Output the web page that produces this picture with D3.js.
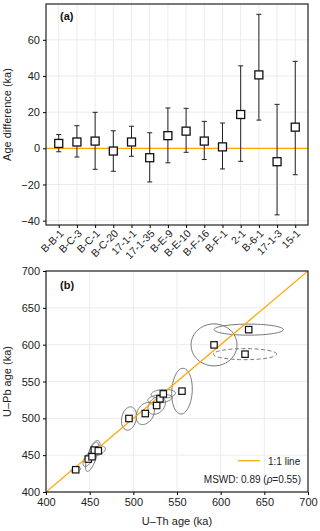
<!DOCTYPE html>
<html>
<head>
<meta charset="utf-8">
<script src="https://cdn.jsdelivr.net/npm/d3@7"></script>
<style>
  body { margin: 0; background: #fff; }
  svg { display: block; font-family: "Liberation Sans", Arial, sans-serif; }
  .grid line { stroke: #ececec; stroke-width: 1; }
  .tick text { fill: #222; }
</style>
</head>
<body>
<svg id="chart" width="320" height="531"></svg>
<script>
// panel (a): U-Th minus U-Pb age difference per sample
const samples = ['B-B-1', 'B-C-3', 'B-C-1', 'B-C-20', '17-1-1', '17-1-35', 'B-E-9', 'B-E-10',
                 'B-F-16', 'B-F-1', '2-1', 'B-6-1', '17-1-3', '15-1'];
const ageDiff = [2.7, 3.5, 4.0, -1.5, 3.5, -5.2, 7.0, 9.5, 4.0, 0.8, 18.7, 40.6, -7.4, 11.7];
const diffHigh = [7.6, 12.5, 19.9, 9.7, 12.2, 8.6, 22.3, 22.1, 14.9, 14.0, 45.6, 74.1, 24.3, 48.1];
const diffLow = [-1.9, -4.8, -11.6, -12.7, -4.4, -18.6, -8.0, -2.2, -6.2, -11.4, -7.2, 15.6, -36.8, -14.6];
const diffTicks = [-40, -20, 0, 20, 40, 60];

// panel (b): U-Pb vs U-Th ages with error ellipses
const uthAge = [434, 448.4, 452.7, 455.3, 459.9, 495, 513.7, 526.7, 530.5, 534.3, 555.7, 592.4, 632.1, 627.9];
const upbAge = [430.2, 444.7, 447.9, 456.9, 456, 499.8, 506.5, 517.4, 526.5, 533.2, 536.9, 599.7, 620.4, 587.1];
const uthErr = [5.7, 6, 7.4, 6.5, 8, 8.6, 10.5, 10, 14, 14, 11.8, 26.3, 39.7, 36.3];
const upbErr = [3.4, 10, 20, 13, 6.5, 15.8, 15, 12, 6, 6, 31, 28.5, 7.5, 7.5];
const rho = [0.4, 0.6, 0.7, 0.55, 0.4, 0.2, 0.3, 0.3, 0.3, 0.15, 0.1, 0, 0, 0];
const rejected = [false, false, false, false, false, false, false, false, false, false, false, false, false, true];
const ageTicks = [400, 450, 500, 550, 600, 650, 700];

const svg = d3.select('#chart');
const W = { left: 46, right: 308 };
const A = { top: 4, bottom: 225 };
const B = { top: 271, bottom: 492 };
const orange = '#ffa500';

// ---------- panel (a) ----------
const xa = d3.scalePoint().domain(samples).range([W.left, W.right]).padding(0.7);
const ya = d3.scaleLinear().domain([-42.4, 79.8]).range([A.bottom, A.top]);

const ga = svg.append('g');
ga.append('g').attr('class', 'grid')
  .selectAll('line.h').data(diffTicks).join('line')
  .attr('x1', W.left).attr('x2', W.right)
  .attr('y1', d => ya(d)).attr('y2', d => ya(d));
ga.append('g').attr('class', 'grid')
  .selectAll('line.v').data(samples).join('line')
  .attr('x1', d => xa(d)).attr('x2', d => xa(d))
  .attr('y1', A.top).attr('y2', A.bottom);

ga.append('line')
  .attr('x1', W.left).attr('x2', W.right)
  .attr('y1', ya(0)).attr('y2', ya(0))
  .attr('stroke', orange).attr('stroke-width', 1.2);

const bars = ga.append('g').selectAll('g').data(samples).join('g');
bars.append('line')
  .attr('x1', d => xa(d)).attr('x2', d => xa(d))
  .attr('y1', (d, i) => ya(diffHigh[i])).attr('y2', (d, i) => ya(diffLow[i]))
  .attr('stroke', '#222').attr('stroke-width', 1);
bars.selectAll('line.cap').data((d, i) => [[d, diffHigh[i]], [d, diffLow[i]]]).join('line')
  .attr('class', 'cap')
  .attr('x1', d => xa(d[0]) - 2.5).attr('x2', d => xa(d[0]) + 2.5)
  .attr('y1', d => ya(d[1])).attr('y2', d => ya(d[1]))
  .attr('stroke', '#222').attr('stroke-width', 1);
bars.append('rect')
  .attr('x', d => xa(d) - 4).attr('y', (d, i) => ya(ageDiff[i]) - 4)
  .attr('width', 8).attr('height', 8)
  .attr('fill', '#fff').attr('stroke', '#111').attr('stroke-width', 1.3);

ga.append('rect')
  .attr('x', W.left).attr('y', A.top)
  .attr('width', W.right - W.left).attr('height', A.bottom - A.top)
  .attr('fill', 'none').attr('stroke', '#222').attr('stroke-width', 1.2);

const yAxisA = ga.append('g').attr('transform', `translate(${W.left},0)`)
  .call(d3.axisLeft(ya).tickValues(diffTicks).tickSize(3).tickPadding(3).tickFormat(d3.format('d')));
yAxisA.select('.domain').remove();
yAxisA.selectAll('text').attr('font-size', 11);

const xAxisA = ga.append('g').attr('transform', `translate(0,${A.bottom})`)
  .call(d3.axisBottom(xa).tickSize(3));
xAxisA.select('.domain').remove();
xAxisA.selectAll('text')
  .attr('font-size', 10.5)
  .attr('text-anchor', 'end')
  .attr('dy', '0.35em')
  .attr('transform', 'translate(2.5,6.5) rotate(-45)')
  .attr('y', 0).attr('x', 0);

ga.append('text')
  .attr('transform', `translate(11,${(A.top + A.bottom) / 2}) rotate(-90)`)
  .attr('text-anchor', 'middle').attr('font-size', 11).attr('fill', '#222')
  .text('Age difference (ka)');
ga.append('text').attr('x', 60).attr('y', 20)
  .attr('font-size', 11).attr('font-weight', 'bold').attr('fill', '#111').text('(a)');

// ---------- panel (b) ----------
const xb = d3.scaleLinear().domain([400, 700]).range([W.left, W.right]);
const yb = d3.scaleLinear().domain([400, 700]).range([B.bottom, B.top]);

const gb = svg.append('g');
gb.append('defs').append('clipPath').attr('id', 'clipB')
  .append('rect').attr('x', W.left).attr('y', B.top)
  .attr('width', W.right - W.left).attr('height', B.bottom - B.top);

gb.append('g').attr('class', 'grid')
  .selectAll('line').data(ageTicks).join('line')
  .attr('x1', d => xb(d)).attr('x2', d => xb(d))
  .attr('y1', B.top).attr('y2', B.bottom);
gb.append('g').attr('class', 'grid')
  .selectAll('line').data(ageTicks).join('line')
  .attr('x1', W.left).attr('x2', W.right)
  .attr('y1', d => yb(d)).attr('y2', d => yb(d));

const plotB = gb.append('g').attr('clip-path', 'url(#clipB)');

// error ellipse outline from sigmas and correlation
function ellipsePath(i) {
  const pts = d3.range(0, 73).map(k => {
    const t = k / 72 * 2 * Math.PI;
    const dx = uthErr[i] * Math.cos(t);
    const dy = upbErr[i] * (rho[i] * Math.cos(t) + Math.sqrt(1 - rho[i] * rho[i]) * Math.sin(t));
    return [xb(uthAge[i] + dx), yb(upbAge[i] + dy)];
  });
  return d3.line()(pts) + 'Z';
}

plotB.append('g').selectAll('path').data(uthAge).join('path')
  .attr('d', (d, i) => ellipsePath(i))
  .attr('fill', 'none').attr('stroke', '#777').attr('stroke-width', 1)
  .attr('stroke-dasharray', (d, i) => rejected[i] ? '4,2.5' : null);

plotB.append('line')
  .attr('x1', xb(400)).attr('y1', yb(400))
  .attr('x2', xb(700)).attr('y2', yb(700))
  .attr('stroke', orange).attr('stroke-width', 1.2);

plotB.append('g').selectAll('rect').data(uthAge).join('rect')
  .attr('x', (d, i) => xb(uthAge[i]) - 3.2).attr('y', (d, i) => yb(upbAge[i]) - 3.2)
  .attr('width', 6.4).attr('height', 6.4)
  .attr('fill', '#fff').attr('stroke', '#111').attr('stroke-width', 1.2);

gb.append('rect')
  .attr('x', W.left).attr('y', B.top)
  .attr('width', W.right - W.left).attr('height', B.bottom - B.top)
  .attr('fill', 'none').attr('stroke', '#222').attr('stroke-width', 1.2);

const yAxisB = gb.append('g').attr('transform', `translate(${W.left},0)`)
  .call(d3.axisLeft(yb).tickValues(ageTicks).tickSize(3).tickPadding(3).tickFormat(d3.format('d')));
yAxisB.select('.domain').remove();
yAxisB.selectAll('text').attr('font-size', 11);

const xAxisB = gb.append('g').attr('transform', `translate(0,${B.bottom})`)
  .call(d3.axisBottom(xb).tickValues(ageTicks).tickSize(3).tickPadding(3).tickFormat(d3.format('d')));
xAxisB.select('.domain').remove();
xAxisB.selectAll('text').attr('font-size', 11);

gb.append('text')
  .attr('transform', `translate(11,${(B.top + B.bottom) / 2}) rotate(-90)`)
  .attr('text-anchor', 'middle').attr('font-size', 11).attr('fill', '#222')
  .text('U–Pb age (ka)');
gb.append('text')
  .attr('x', (W.left + W.right) / 2).attr('y', 525)
  .attr('text-anchor', 'middle').attr('font-size', 11).attr('fill', '#222')
  .text('U–Th age (ka)');
gb.append('text').attr('x', 60).attr('y', 289)
  .attr('font-size', 11).attr('font-weight', 'bold').attr('fill', '#111').text('(b)');

// legend
gb.append('line').attr('x1', 238).attr('x2', 260).attr('y1', 460.7).attr('y2', 460.7)
  .attr('stroke', orange).attr('stroke-width', 1.2);
gb.append('text').attr('x', 268).attr('y', 464.5)
  .attr('font-size', 10).attr('fill', '#222').text('1:1 line');
const mswd = gb.append('text').attr('x', 301).attr('y', 482.5)
  .attr('text-anchor', 'end').attr('font-size', 10).attr('fill', '#222');
mswd.append('tspan').text('MSWD: 0.89 (');
mswd.append('tspan').attr('font-style', 'italic').text('ρ');
mswd.append('tspan').text('=0.55)');
</script>
</body>
</html>
